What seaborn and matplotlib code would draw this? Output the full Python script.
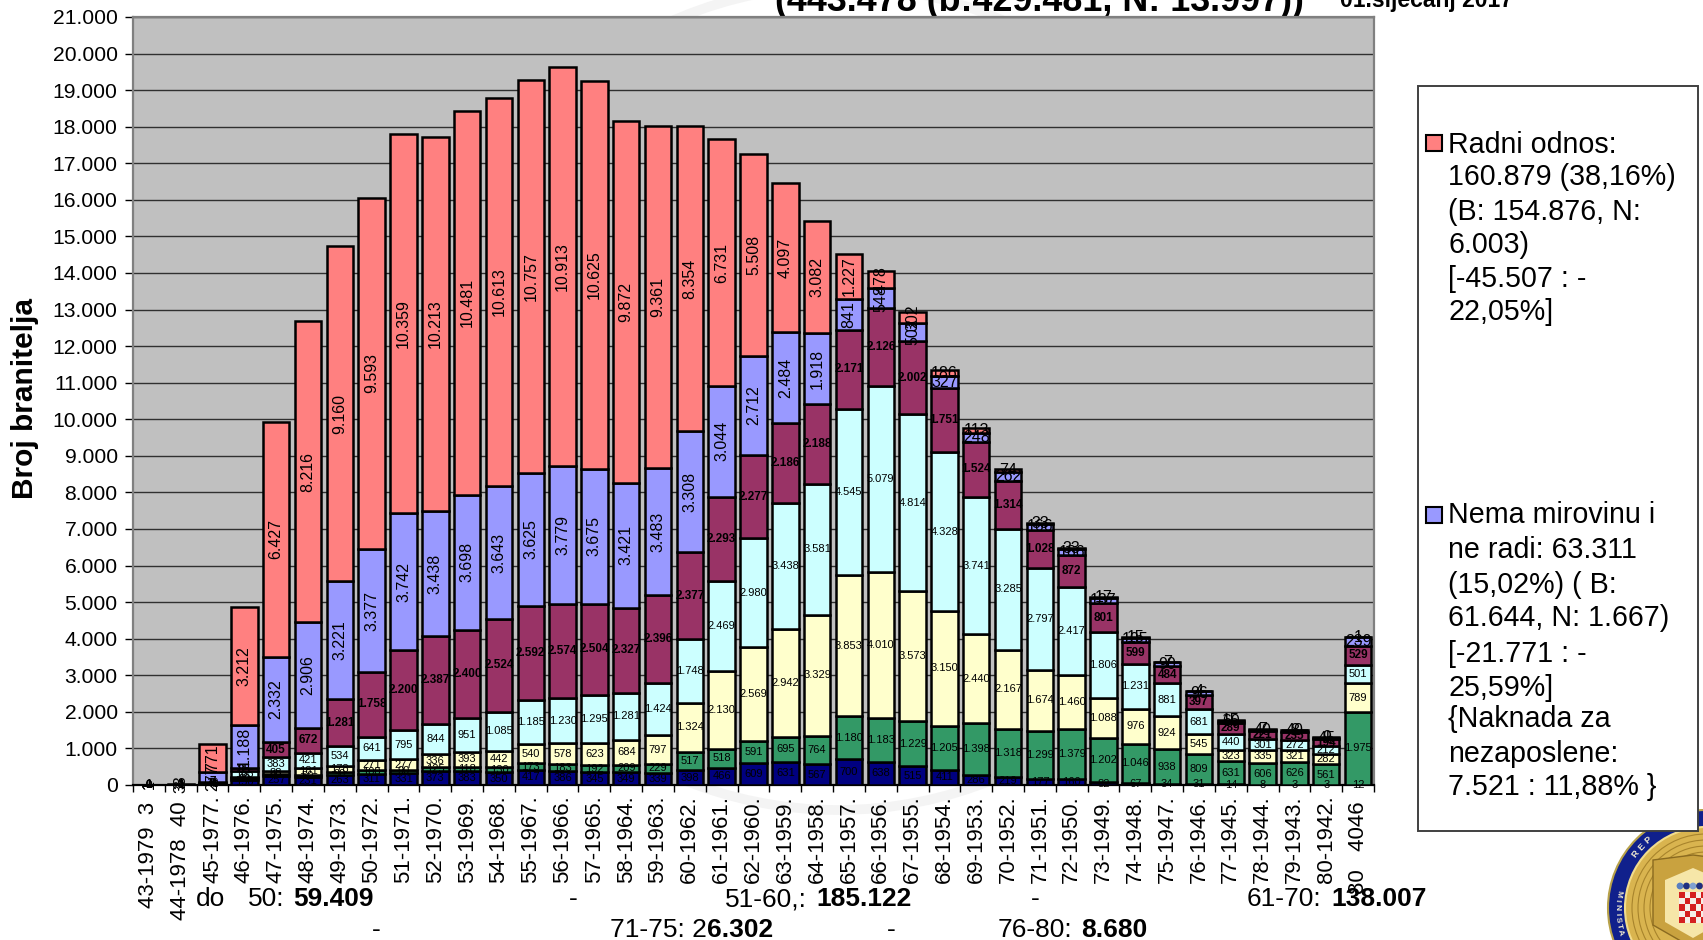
# -*- coding: utf-8 -*-
"""Stacked bars: veterans by birth year and status (recreated chart)."""

import numpy as np
import matplotlib.pyplot as plt
from matplotlib.patches import Circle, Polygon, Rectangle
import seaborn as sns

W, H = 1703, 940

# Category labels (year and total are one label in the original)
categories = ['43-1979  3\u00a0', '44-1978  40\u00a0', '45-1977.', '46-1976.', '47-1975.', '48-1974.',
              '49-1973.', '50-1972.', '51-1971.', '52-1970.', '53-1969.', '54-1968.', '55-1967.',
              '56-1966.', '57-1965.', '58-1964.', '59-1963.', '60-1962.', '61-1961.', '62-1960.',
              '63-1959.', '64-1958.', '65-1957.', '66-1956.', '67-1955.', '68-1954.', '69-1953.',
              '70-1952.', '71-1951.', '72-1950.', '73-1949.', '74-1948.', '75-1947.', '76-1946.',
              '77-1945.', '78-1944.', '79-1943.', '80-1942.', '80   4046\u00a0']

# Series, bottom to top of the stack
navy = [0, 1, 41, 150, 257, 231, 263, 311, 331, 373, 383, 350, 417, 386, 345, 349, 339, 398, 466, 609,
        631, 567, 700, 638, 515, 411, 286, 219, 177, 160, 82, 67, 34, 31, 14, 8, 3, 3, 12]
green = [0, 0, 5, 30, 40, 50, 90, 100, 90, 125, 118, 130, 173, 183, 192, 209, 229, 517, 518, 591,
         695, 764, 1180, 1183, 1229, 1205, 1398, 1318, 1299, 1379, 1202, 1046, 938, 809, 631, 606, 626, 561, 1975]
yellow = [0, 1, 10, 40, 88, 181, 178, 271, 277, 336, 393, 442, 540, 578, 623, 684, 797, 1324, 2130, 2569,
          2942, 3329, 3853, 4010, 3573, 3150, 2440, 2167, 1674, 1460, 1088, 976, 924, 545, 323, 335, 321, 282, 789]
cyan = [0, 1, 9, 155, 383, 421, 534, 641, 795, 844, 951, 1085, 1185, 1230, 1295, 1281, 1424, 1748, 2469, 2980,
        3438, 3581, 4545, 5079, 4814, 4328, 3741, 3285, 2797, 2417, 1806, 1231, 881, 681, 440, 301, 272, 212, 501]
maroon = [1, 1, 7, 85, 405, 672, 1281, 1758, 2200, 2387, 2400, 2524, 2592, 2574, 2504, 2327, 2396, 2377, 2293, 2277,
          2186, 2188, 2171, 2126, 2002, 1751, 1524, 1314, 1028, 872, 801, 599, 484, 397, 289, 221, 235, 194, 529]
periwinkle = [1, 3, 277, 1188, 2332, 2906, 3221, 3377, 3742, 3438, 3698, 3643, 3625, 3779, 3675, 3421, 3483, 3308, 3044, 2712,
              2484, 1918, 841, 548, 502, 327, 248, 262, 166, 166, 137, 105, 90, 96, 60, 40, 40, 45, 239]
salmon = [1, 33, 771, 3212, 6427, 8216, 9160, 9593, 10359, 10213, 10481, 10613, 10757, 10913, 10625, 9872, 9361, 8354, 6731, 5508,
          4097, 3082, 1227, 478, 302, 186, 113, 74, 33, 33, 17, 15, 7, 4, 15, 7, 8, 9, 1]

y_ticks = list(range(0, 22000, 1000))

title_text = '(443.478 (b:429.481, N: 13.997))'
date_text = '01.siječanj 2017'
y_label = 'Broj branitelja'

legend_top = ['Radni odnos:', '160.879 (38,16%)', '(B: 154.876, N:', '6.003)', '[-45.507 : -', '22,05%]']
legend_bottom = ['Nema mirovinu i', 'ne radi: 63.311', '(15,02%) ( B:', '61.644, N: 1.667)', '[-21.771 : -',
                 '25,59%]', '{Naknada za', 'nezaposlene:', '7.521 : 11,88% }']

# text, x in pixels, baseline y in pixels, bold
decade_texts = [('do', 196, 906, False), ('50:', 248, 906, False), ('59.409', 293, 906, True),
                ('-', 569, 906, False), ('51-60,:', 725, 906, False), ('185.122', 816, 906, True),
                ('-', 1031, 906, False), ('61-70:', 1247, 906, False), ('138.007', 1331, 906, True),
                ('-', 372, 937, False), ('71-75: 2', 610, 937, False), ('6.302', 707, 937, True),
                ('-', 887, 937, False), ('76-80:', 998, 937, False), ('8.680', 1081, 937, True)]


def fmt(value):
    return f'{value:,}'.replace(',', '.')


def draw_emblem(bg):
    """Ministry seal in the bottom right corner, partly cut off by the page."""
    cx, cy, r = 1706, 908, 98
    bg.add_patch(Circle((cx, cy), r, fc='#10208c', ec='#b8a24a', lw=1.5, zorder=1))
    bg.add_patch(Circle((cx, cy), r - 17, fc='#d9b44f', ec='#f2dc8c', lw=1.5, zorder=1))
    for rad in [r - 24, r - 30, r - 36, r - 42]:
        bg.add_patch(Circle((cx, cy), rad, fc='none', ec='#a8842c', lw=0.8, zorder=1))
    shield = Polygon([(1653, 860), (1693, 855), (1733, 860), (1733, 925), (1693, 948), (1653, 925)],
                     fc='#c9a23f', ec='#8a6a20', lw=1, zorder=1)
    bg.add_patch(shield)
    inner = Polygon([(1665, 880), (1693, 868), (1721, 880), (1721, 922), (1693, 938), (1665, 922)],
                    fc='#f6e6a8', ec='none', zorder=1)
    bg.add_patch(inner)
    for i in range(5):
        bg.add_patch(Circle((1680 + i * 6.5, 886), 3.4, fc=['#5a80c0', '#203080', '#80a0d0', '#203080', '#c03030'][i],
                            ec='none', zorder=1))
    for row in range(5):
        for col in range(5):
            bg.add_patch(Rectangle((1679 + col * 5.5, 892 + row * 6.2), 5.5, 6.2, zorder=1, ec='none',
                                   fc='#d42020' if (row + col) % 2 == 0 else '#f4f0e8'))
    # Ring lettering: upper part reads outward, left part reads downward
    for i, ch in enumerate('REP'):
        ang = 142.6 - i * 6
        rad = np.deg2rad(ang)
        bg.text(cx + (r - 9) * np.cos(rad), cy - (r - 9) * np.sin(rad), ch, color='#f0ead0', fontsize=6.5,
                fontweight='bold', ha='center', va='center', zorder=2, rotation=ang - 90, rotation_mode='anchor')
    for i, ch in enumerate('MINISTA'):
        ang = 171 + i * 4.2
        rad = np.deg2rad(ang)
        bg.text(cx + (r - 9) * np.cos(rad), cy - (r - 9) * np.sin(rad), ch, color='#f0ead0', fontsize=6,
                fontweight='bold', ha='center', va='center', zorder=2, rotation=ang + 90, rotation_mode='anchor')


def main():
    sns.set_theme(style='white')
    plt.rcParams['font.family'] = ['Liberation Sans', 'DejaVu Sans']

    fig = plt.figure(figsize=(W / 100, H / 100), dpi=100, facecolor='white')

    # Page layer in pixel coordinates
    bg = fig.add_axes([0, 0, 1, 1], zorder=0)
    bg.set_xlim(0, W)
    bg.set_ylim(H, 0)
    bg.axis('off')

    # Faint watermark ring
    bg.add_patch(Circle((838, 398), 412, fc='none', ec='#f4f4f4', lw=7, zorder=0))
    draw_emblem(bg)

    ax = fig.add_axes([133 / W, 1 - 785 / H, (1374 - 133) / W, (785 - 17) / H], zorder=1)
    ax.set_facecolor('#C0C0C0')

    series = [(navy, '#000080', 'normal', 8.0), (green, '#339966', 'normal', 8.0), (yellow, '#FFFFCC', 'normal', 8.0),
              (cyan, '#CCFFFF', 'normal', 8.0), (maroon, '#993366', 'bold', 8.5),
              (periwinkle, '#9999FF', 'normal', 11.5), (salmon, '#FF8080', 'normal', 11.5)]

    bottom = np.zeros(len(categories))
    for idx, (values, color, weight, size) in enumerate(series):
        sns.barplot(x=categories, y=values, bottom=bottom, color=color, saturation=1, width=0.83,
                    edgecolor='black', linewidth=1.8, zorder=3, ax=ax, errorbar=None)
        for pos, value in enumerate(values):
            # big upper series are written sideways until the bars get short
            rot = 90 if idx >= 5 and pos <= 24 else 0
            ax.text(pos, bottom[pos] + value / 2, fmt(value), ha='center', va='center', rotation=rot,
                    fontsize=size, fontweight=weight, color='black', zorder=4)
        bottom = bottom + np.array(values)

    ax.set_xlim(-0.5, len(categories) - 0.5)
    ax.set_ylim(0, 21000)
    ax.set_yticks(y_ticks)
    ax.set_yticklabels([fmt(v) for v in y_ticks], fontsize=15.2, color='black')
    ax.set_axisbelow(True)
    ax.grid(axis='y', color='#303030', lw=1.0, zorder=0)
    ax.grid(axis='x', visible=False)
    ax.tick_params(axis='y', length=6, width=1, color='black', pad=5, left=True)
    ax.tick_params(axis='x', which='major', length=0, pad=7.5, labelsize=16, labelrotation=90, labelcolor='black')
    ax.set_xticks(np.arange(len(categories) + 1) - 0.5, minor=True)
    ax.tick_params(axis='x', which='minor', length=5, width=1, color='black', bottom=True)
    for spine in ax.spines.values():
        spine.set_color('#808080')
        spine.set_linewidth(1.6)
    ax.spines['bottom'].set_color('black')
    ax.set_ylabel(y_label, fontsize=21.5, fontweight='bold', color='black')
    ax.yaxis.set_label_coords(-0.076, 0.503)

    # Title cut off by the top edge, as in the source slide
    bg.text(775, 11, title_text, fontsize=25.8, fontweight='bold', color='black', ha='left', va='baseline', zorder=5)
    bg.text(1340, 7, date_text, fontsize=16.5, fontweight='bold', color='black', ha='left', va='baseline', zorder=5)

    # Legend box
    bg.add_patch(Rectangle((1418, 86), 280, 745, fc='white', ec='#404040', lw=1.4, zorder=3))
    for pos, line in zip([153, 185, 220, 253, 287, 320], legend_top):
        bg.text(1448, pos, line, fontsize=20.6, color='black', va='baseline', zorder=5)
    for pos, line in zip([523, 558, 593, 626, 662, 696, 727, 762, 795], legend_bottom):
        bg.text(1448, pos, line, fontsize=20.6, color='black', va='baseline', zorder=5)
    bg.add_patch(Rectangle((1426, 135), 16, 16, fc='#FF8080', ec='black', lw=1.5, zorder=5))
    bg.add_patch(Rectangle((1426, 507), 16, 16, fc='#9999FF', ec='black', lw=1.5, zorder=5))

    # Decade totals under the axis, drawn on top of the tick labels
    over = fig.add_axes([0, 0, 1, 1], zorder=2)
    over.set_xlim(0, W)
    over.set_ylim(H, 0)
    over.axis('off')
    for text, x, y, bold in decade_texts:
        over.text(x, y, text, fontsize=19, fontweight='bold' if bold else 'normal', color='black',
                  ha='left', va='baseline')

    fig.savefig('out.png', dpi=100)
    plt.close('all')


if __name__ == '__main__':
    main()
